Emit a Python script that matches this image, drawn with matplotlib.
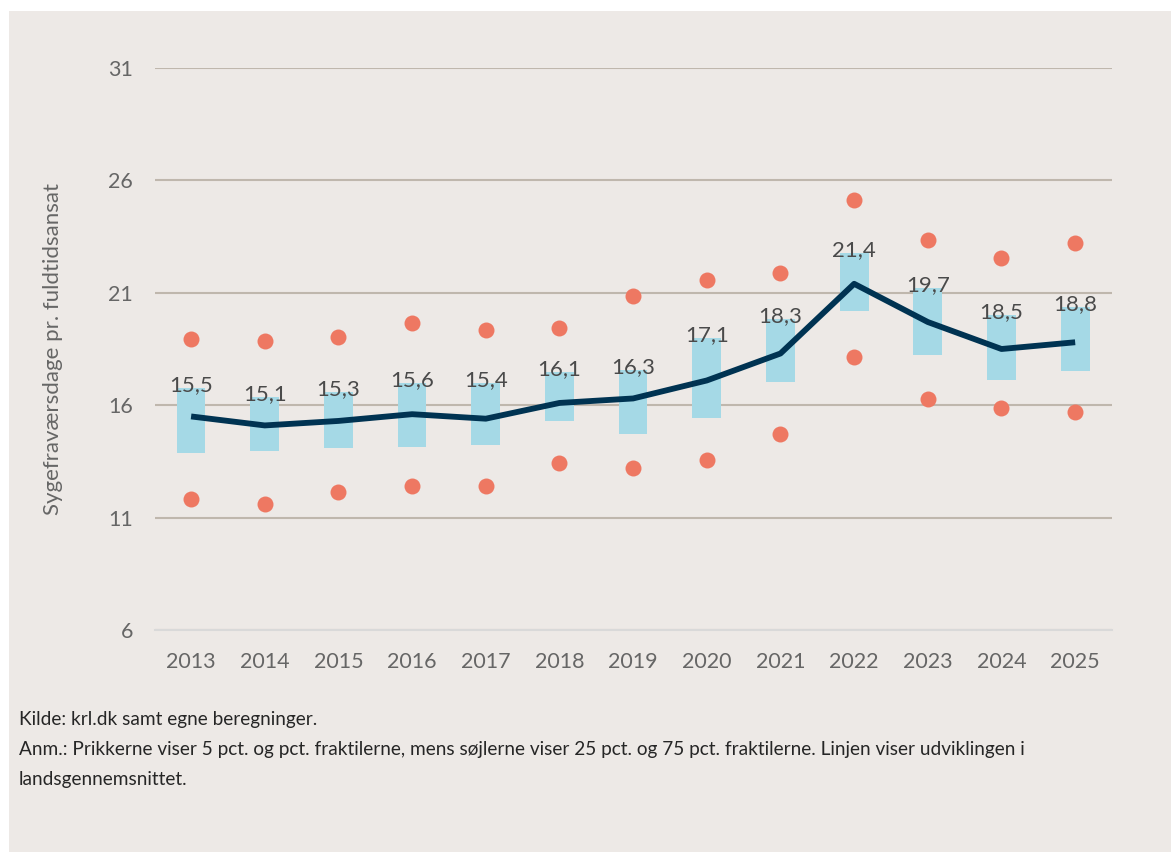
import matplotlib.pyplot as plt
from matplotlib.patches import Rectangle

years = ["2013", "2014", "2015", "2016", "2017", "2018", "2019",
         "2020", "2021", "2022", "2023", "2024", "2025"]
mean = [15.5, 15.1, 15.3, 15.6, 15.4, 16.1, 16.3, 17.1, 18.3, 21.4, 19.7, 18.5, 18.8]
p25 = [13.87, 13.96, 14.09, 14.13, 14.22, 15.29, 14.71, 15.42, 17.02, 20.18, 18.22, 17.11, 17.51]
p75 = [16.76, 16.36, 16.58, 16.98, 16.98, 17.47, 17.56, 18.98, 19.82, 22.76, 21.2, 20.0, 20.36]
p5 = [11.82, 11.6, 12.13, 12.4, 12.4, 13.42, 13.2, 13.56, 14.71, 18.13, 16.27, 15.87, 15.69]
p95 = [18.93, 18.84, 19.02, 19.64, 19.33, 19.42, 20.84, 21.56, 21.87, 25.11, 23.33, 22.53, 23.2]
yticks = [6, 11, 16, 21, 26, 31]

bg = "#EDE9E6"
plt.rcParams['font.family'] = ['Lato', 'DejaVu Sans']

fig = plt.figure(figsize=(11.71, 8.52), dpi=100, facecolor="white")
fig.patches.append(Rectangle((9 / 1171, 0), 1, 1 - 11 / 852, transform=fig.transFigure,
                             facecolor=bg, edgecolor="none", zorder=-10))
ax = fig.add_axes([155 / 1171, 1 - 630 / 852, (1112 - 155) / 1171, (630 - 68) / 852])
ax.set_zorder(2)
ax.set_facecolor(bg)

x = list(range(len(years)))
heights = [hi - lo for lo, hi in zip(p25, p75)]
ax.bar(x, heights, bottom=p25, width=0.39, color="#A5D9E6", zorder=2)
ax.plot(x, mean, color="#003352", lw=4.2, zorder=3, solid_capstyle="butt")
ax.plot(x, p5, "o", color="#EE7862", ms=11.5, mec="none", zorder=4)
ax.plot(x, p95, "o", color="#EE7862", ms=11.5, mec="none", zorder=4)

for xi, top, m in zip(x, p75, mean):
    ax.annotate(f"{m:.1f}".replace(".", ","), (xi, top), xytext=(0, 2),
                textcoords="offset points", ha="center", va="center",
                fontsize=16, color="#4A4A4A", zorder=5)

ax.set_xlim(-0.49, 12.5)
ax.set_ylim(6, 31)
ax.set_yticks(yticks)
ax.set_xticks(x)
ax.set_xticklabels(years)
ax.yaxis.grid(True, color="#BFB7AD", lw=1.5, zorder=1)
ax.set_axisbelow(True)
for s in ["top", "right", "left"]:
    ax.spines[s].set_visible(False)
ax.spines["bottom"].set_color("#D9D9D9")
ax.spines["bottom"].set_linewidth(1.5)
ax.tick_params(length=0, labelsize=15.5, labelcolor="#666666")
ax.tick_params(axis="y", pad=16)
ax.tick_params(axis="x", pad=16)
ax.set_ylabel("Sygefraværsdage pr. fuldtidsansat", fontsize=16,
              color="#666666", labelpad=32)

notes = [
    "Kilde: krl.dk samt egne beregninger.",
    "Anm.: Prikkerne viser 5 pct. og pct. fraktilerne, mens søjlerne viser 25 pct. og 75 pct. fraktilerne. Linjen viser udviklingen i",
    "landsgennemsnittet.",
]
for i, t in enumerate(notes):
    fig.text(19 / 1171, 1 - (720 + 29.5 * i) / 852, t, fontsize=13.7, color="#262626",
             ha="left", va="center")

fig.savefig("out.png", dpi=100, facecolor="white")
